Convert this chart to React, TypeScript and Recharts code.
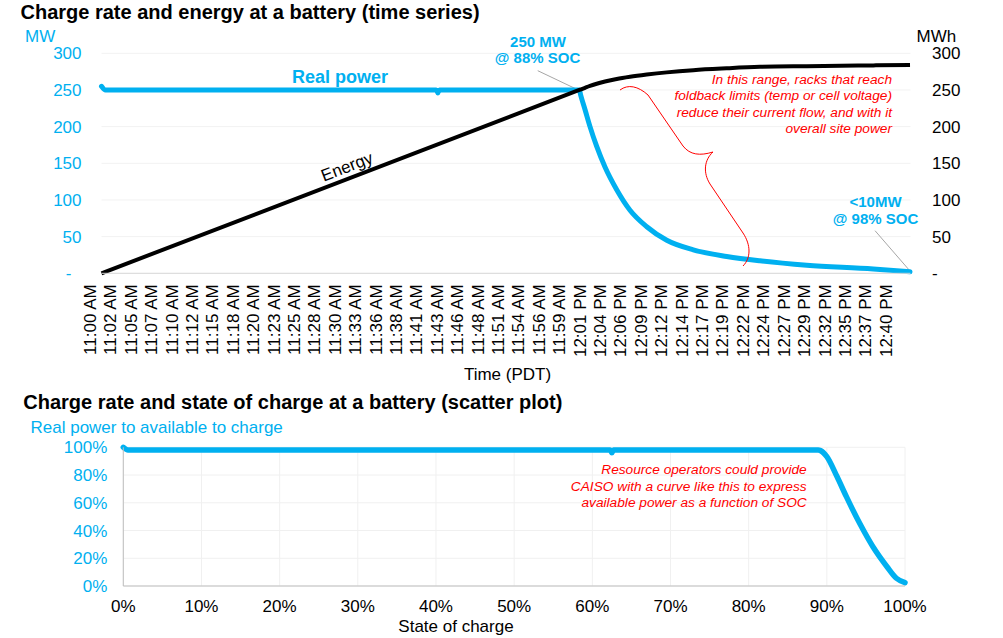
import { CartesianGrid, Line, LineChart, ReferenceLine, XAxis, YAxis } from 'recharts'

const BLUE = '#00b0f0'
const RED = '#ff0000'
const FONT = '"Liberation Sans", Arial, Helvetica, sans-serif'

// ---- time series (minutes after 11:00 AM) ----
const timeLabels = [
  '11:00 AM', '11:02 AM', '11:05 AM', '11:07 AM', '11:10 AM', '11:12 AM', '11:15 AM', '11:18 AM',
  '11:20 AM', '11:23 AM', '11:25 AM', '11:28 AM', '11:30 AM', '11:33 AM', '11:36 AM', '11:38 AM',
  '11:41 AM', '11:43 AM', '11:46 AM', '11:48 AM', '11:51 AM', '11:54 AM', '11:56 AM', '11:59 AM',
  '12:01 PM', '12:04 PM', '12:06 PM', '12:09 PM', '12:12 PM', '12:14 PM', '12:17 PM', '12:19 PM',
  '12:22 PM', '12:24 PM', '12:27 PM', '12:29 PM', '12:32 PM', '12:35 PM', '12:37 PM', '12:40 PM',
]
const LABEL_STEP = 2.56 // minutes between the shown labels
const TIME_END = 101.5

const sampleMinutes = [
  0, 0.5, 42.0, 42.2, 42.4, 59.95, 60.12, 60.67, 61.29, 62.13, 63.17,
  64.64, 66.31, 68.41, 70.92, 74.25, 78.44, 82.62, 88.48, 96.84, 101.44,
]
const realPowerMW = [
  255, 250, 250, 246, 250, 250, 243, 223, 200, 173, 145,
  114, 86, 63.5, 45, 32, 23, 17, 11, 6, 2,
]
const energyMWh = [
  0, null, null, null, null, 250, null, 253, 255.5, 258.5, 261.5,
  265, 268, 271, 274, 277, 279.5, 281.5, 282.5, 283.5, 284,
]
const mwTicks = [0, 50, 100, 150, 200, 250, 300]

// ---- scatter: SOC vs share of available power ----
const socPct = [0, 0.6, 62.3, 62.5, 62.7, 88.9, 89.2, 90.0, 91.3, 92.5, 94.2, 95.9, 97.7, 98.9, 100]
const availablePct = [100, 98, 98, 96.1, 98, 98, 97.6, 93.3, 78.9, 64.4, 45.2, 28.3, 13.9, 5.6, 2.4]
const pctTicksY = [0, 20, 40, 60, 80, 100]
const pctTicksX = [0, 10, 20, 30, 40, 50, 60, 70, 80, 90, 100]

const timeRows = sampleMinutes.map((minute, i) => ({
  minute,
  power: realPowerMW[i],
  energy: energyMWh[i],
}))
const socRows = socPct.map((soc, i) => ({ soc, avail: availablePct[i] }))
const timeTicks = timeLabels.map((_, i) => i * LABEL_STEP)

function TimeTick(props: any) {
  const { x, y, index } = props
  const lx = x - 11.5
  return (
    <text
      x={lx}
      y={y}
      dy="0.35em"
      transform={`rotate(-90 ${lx} ${y})`}
      textAnchor="end"
      fill="#000"
      fontSize={17}
      fontFamily={FONT}
    >
      {timeLabels[index]}
    </text>
  )
}

function MwTick(props: any) {
  const { x, y, payload } = props
  const zero = payload.value === 0
  return (
    <text x={zero ? x - 10 : x} y={y} dy="0.355em" textAnchor="end" fill={BLUE} fontSize={17} fontFamily={FONT}>
      {zero ? '-' : payload.value}
    </text>
  )
}

function MwhTick(props: any) {
  const { x, y, payload } = props
  return (
    <text x={x} y={y} dy="0.355em" textAnchor="start" fill="#000" fontSize={17} fontFamily={FONT}>
      {payload.value === 0 ? '-' : payload.value}
    </text>
  )
}

export default function App() {
  return (
    <div style={{ position: 'relative', width: 1003, height: 638, background: '#fff', fontFamily: FONT }}>
      <style>{'body{margin:0;background:#fff}'}</style>

      <div style={{ position: 'absolute', left: 0, top: 0 }}>
        <LineChart width={1003} height={390} data={timeRows} margin={{ top: 53.3, right: 32.5, bottom: 16.7, left: 41.5 }}>
          <CartesianGrid yAxisId="left" vertical={false} stroke="#f2f2f2" />
          <XAxis
            dataKey="minute"
            type="number"
            domain={[0, TIME_END]}
            ticks={timeTicks}
            interval={0}
            tick={TimeTick}
            tickSize={0}
            tickMargin={11}
            tickLine={false}
            axisLine={{ stroke: '#d9d9d9' }}
            height={100}
          />
          <YAxis
            yAxisId="left"
            domain={[0, 300]}
            ticks={mwTicks}
            tick={MwTick}
            tickSize={0}
            tickMargin={20}
            axisLine={false}
            tickLine={false}
            width={60}
          />
          <YAxis
            yAxisId="right"
            orientation="right"
            domain={[0, 300]}
            ticks={mwTicks}
            tick={MwhTick}
            tickSize={0}
            tickMargin={21.5}
            axisLine={false}
            tickLine={false}
            width={60}
          />
          <ReferenceLine
            yAxisId="left"
            segment={[{ x: 54.73, y: 276.3 }, { x: 59.62, y: 251 }]}
            stroke="#a6a6a6"
            strokeWidth={1}
          />
          <ReferenceLine
            yAxisId="left"
            segment={[{ x: 97.05, y: 58.1 }, { x: 101.44, y: 3.1 }]}
            stroke="#a6a6a6"
            strokeWidth={1}
          />
          <Line
            yAxisId="left"
            type="monotone"
            dataKey="power"
            stroke={BLUE}
            strokeWidth={5}
            strokeLinecap="round"
            dot={false}
            isAnimationActive={false}
          />
          <Line
            yAxisId="right"
            type="monotone"
            dataKey="energy"
            stroke="#000"
            strokeWidth={4}
            dot={false}
            connectNulls
            isAnimationActive={false}
          />
        </LineChart>
      </div>

      <div style={{ position: 'absolute', left: 0, top: 390 }}>
        <LineChart width={1003} height={248} data={socRows} margin={{ top: 57.3, right: 98, bottom: 22, left: 63.3 }}>
          <CartesianGrid stroke="#f0f0f0" />
          <XAxis
            dataKey="soc"
            type="number"
            domain={[0, 100]}
            ticks={pctTicksX}
            interval={0}
            tickFormatter={(v: number) => `${v}%`}
            tick={{ fill: '#000', fontSize: 17, fontFamily: FONT }}
            tickSize={0}
            tickMargin={14}
            tickLine={false}
            axisLine={{ stroke: '#bfbfbf' }}
            height={30}
          />
          <YAxis
            domain={[0, 100]}
            ticks={pctTicksY}
            tickFormatter={(v: number) => `${v}%`}
            tick={{ fill: BLUE, fontSize: 17, fontFamily: FONT }}
            tickSize={0}
            tickMargin={16}
            tickLine={false}
            axisLine={{ stroke: '#bfbfbf' }}
            width={60}
          />
          <Line
            type="monotone"
            dataKey="avail"
            stroke={BLUE}
            strokeWidth={5.5}
            strokeLinecap="round"
            dot={false}
            isAnimationActive={false}
          />
        </LineChart>
      </div>

      <svg
        width={1003}
        height={638}
        style={{ position: 'absolute', left: 0, top: 0, pointerEvents: 'none' }}
        fontFamily={FONT}
      >
        <text x={20.5} y={19} fontSize={20} fontWeight="bold" fill="#000">
          Charge rate and energy at a battery (time series)
        </text>
        <text x={25} y={41.5} fontSize={17} fill={BLUE}>MW</text>
        <text x={916.5} y={41.5} fontSize={17} fill="#000">MWh</text>

        <text x={292} y={83} fontSize={18} fontWeight="bold" fill={BLUE}>Real power</text>
        <text x={349} y={172} fontSize={17} fill="#000" textAnchor="middle" transform="rotate(-21 349 172)">
          Energy
        </text>

        <g fontSize={15} fontWeight="bold" fill={BLUE} textAnchor="middle">
          <text x={538} y={46.7}>250 MW</text>
          <text x={537.5} y={63}>@ 88% SOC</text>
          <text x={875.5} y={207}>&lt;10MW</text>
          <text x={875.5} y={224}>@ 98% SOC</text>
        </g>

        <g fontSize={13.7} fontStyle="italic" fill={RED} textAnchor="end">
          <text x={892} y={84}>In this range, racks that reach</text>
          <text x={892} y={100.3}>foldback limits (temp or cell voltage)</text>
          <text x={892} y={116.7}>reduce their current flow, and with it</text>
          <text x={892} y={133}>overall site power</text>
        </g>
        <path
          d="M620,90 C628,84 638,86 648,95 L683,146 C690,155 700,156 713,152 C704,160 703,173 710,184 L743,233 C751,245 751,258 743,266"
          fill="none"
          stroke={RED}
          strokeWidth={1}
        />

        <text x={507.5} y={380} fontSize={17} fill="#000" textAnchor="middle">Time (PDT)</text>

        <text x={23.3} y={409} fontSize={20} fontWeight="bold" fill="#000">
          Charge rate and state of charge at a battery (scatter plot)
        </text>
        <text x={30.5} y={432.7} fontSize={17} fill={BLUE}>Real power to available to charge</text>

        <g fontSize={13.7} fontStyle="italic" fill={RED} textAnchor="end">
          <text x={806.7} y={474.3}>Resource operators could provide</text>
          <text x={806.7} y={490.5}>CAISO with a curve like this to express</text>
          <text x={806.7} y={506.7}>available power as a function of SOC</text>
        </g>

        <text x={456} y={631.7} fontSize={17} fill="#000" textAnchor="middle">State of charge</text>
      </svg>
    </div>
  )
}
